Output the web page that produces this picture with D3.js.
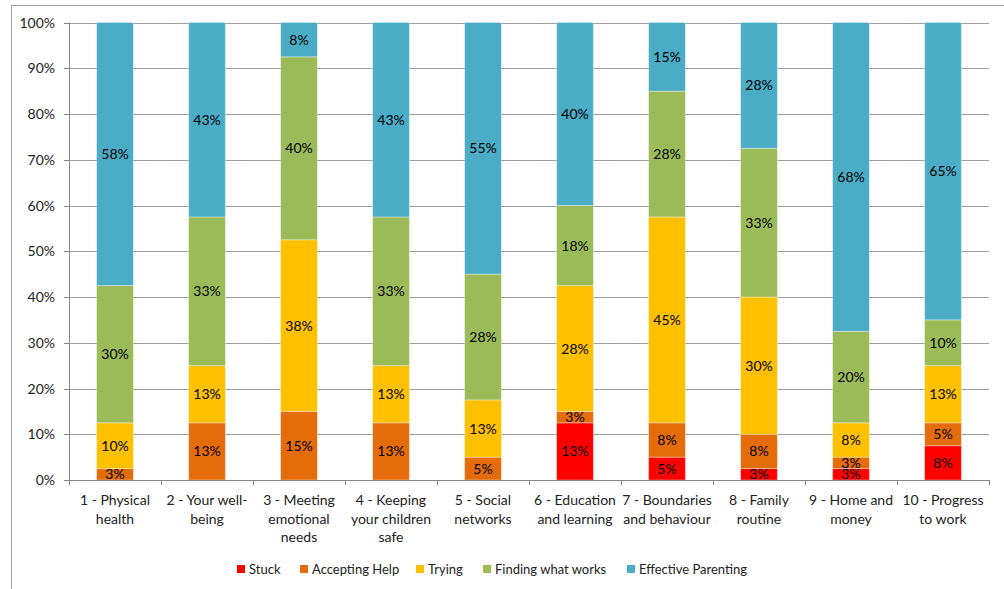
<!DOCTYPE html>
<html>
<head>
<meta charset="utf-8">
<script src="https://cdn.jsdelivr.net/npm/d3@7"></script>
<style>
  body { margin: 0; background: #fff; }
  svg { font-family: Lato, "Liberation Sans", sans-serif; }
</style>
</head>
<body>
<svg id="chart" width="1004" height="589"></svg>
<script>
// categories and series (percent of families at each stage)
const categories = [
  ['1 - Physical', 'health'],
  ['2 - Your well-', 'being'],
  ['3 - Meeting', 'emotional', 'needs'],
  ['4 - Keeping', 'your children', 'safe'],
  ['5 - Social', 'networks'],
  ['6 - Education', 'and learning'],
  ['7 - Boundaries', 'and behaviour'],
  ['8 - Family', 'routine'],
  ['9 - Home and', 'money'],
  ['10 - Progress', 'to work']
];
const seriesNames = ['Stuck', 'Accepting Help', 'Trying', 'Finding what works', 'Effective Parenting'];
const seriesColors = ['#ff0000', '#e46c0a', '#ffc000', '#9bbb59', '#4bacc6'];

const stuck        = [0, 0, 0, 0, 0, 12.5, 5, 2.5, 2.5, 7.5];
const acceptHelp   = [2.5, 12.5, 15, 12.5, 5, 2.5, 7.5, 7.5, 2.5, 5];
const trying       = [10, 12.5, 37.5, 12.5, 12.5, 27.5, 45, 30, 7.5, 12.5];
const findingWorks = [30, 32.5, 40, 32.5, 27.5, 17.5, 27.5, 32.5, 20, 10];
const effective    = [57.5, 42.5, 7.5, 42.5, 55, 40, 15, 27.5, 67.5, 65];

const yTicks = [0, 10, 20, 30, 40, 50, 60, 70, 80, 90, 100];

const allSeries = [stuck, acceptHelp, trying, findingWorks, effective];
const table = categories.map(function (c, i) {
  const row = { cat: i };
  seriesNames.forEach(function (s, j) { row[s] = allSeries[j][i]; });
  return row;
});

const svg = d3.select('#chart');

// outer chart border
svg.append('rect')
  .attr('x', 11.5).attr('y', 5.5)
  .attr('width', 1010).attr('height', 600)
  .attr('fill', 'none').attr('stroke', '#a6a6a6');

const plotLeft = 69, plotRight = 989, plotTop = 22.5, plotBottom = 480;

const x = d3.scaleBand().domain(d3.range(categories.length)).range([plotLeft, plotRight]).paddingInner(0.6).paddingOuter(0.3);
const xOuter = d3.scaleBand().domain(d3.range(categories.length)).range([plotLeft, plotRight]);
const y = d3.scaleLinear().domain([0, 100]).range([plotBottom, plotTop]);

// gridlines
svg.append('g')
  .selectAll('line')
  .data(yTicks.slice(1))
  .join('line')
  .attr('x1', plotLeft).attr('x2', plotRight)
  .attr('y1', function (d) { return Math.round(y(d)) + 0.5; })
  .attr('y2', function (d) { return Math.round(y(d)) + 0.5; })
  .attr('stroke', '#9e9e9e');

const stack = d3.stack().keys(seriesNames);
const layers = stack(table);

const g = svg.append('g');
layers.forEach(function (layer, j) {
  g.append('g')
    .attr('fill', seriesColors[j])
    .selectAll('rect')
    .data(layer.filter(function (d) { return d[1] - d[0] > 0; }))
    .join('rect')
    .attr('x', function (d) { return x(d.data.cat); })
    .attr('width', x.bandwidth())
    .attr('y', function (d) { return y(d[1]); })
    .attr('height', function (d) { return y(d[0]) - y(d[1]); })
    .attr('stroke', 'rgba(255,255,255,0.35)')
    .attr('stroke-width', 1);
});

// data labels
layers.forEach(function (layer, j) {
  g.append('g')
    .selectAll('text')
    .data(layer.filter(function (d) { return d[1] - d[0] > 0; }))
    .join('text')
    .attr('x', function (d) { return x(d.data.cat) + x.bandwidth() / 2; })
    .attr('y', function (d) { return (y(d[0]) + y(d[1])) / 2; })
    .attr('dy', '0.36em')
    .attr('text-anchor', 'middle')
    .attr('font-size', 14)
    .attr('fill', '#000')
    .text(function (d) { return Math.round(d[1] - d[0]) + '%'; });
});

// y axis
const yAxis = svg.append('g');
yAxis.append('line')
  .attr('x1', plotLeft + 0.5).attr('x2', plotLeft + 0.5)
  .attr('y1', plotTop).attr('y2', plotBottom)
  .attr('stroke', '#868686');
yAxis.selectAll('line.tick')
  .data(yTicks)
  .join('line')
  .attr('class', 'tick')
  .attr('x1', plotLeft - 5).attr('x2', plotLeft)
  .attr('y1', function (d) { return Math.round(y(d)) + 0.5; })
  .attr('y2', function (d) { return Math.round(y(d)) + 0.5; })
  .attr('stroke', '#868686');
yAxis.selectAll('text')
  .data(yTicks)
  .join('text')
  .attr('x', plotLeft - 14)
  .attr('y', function (d) { return y(d); })
  .attr('dy', '0.36em')
  .attr('text-anchor', 'end')
  .attr('font-size', 14)
  .attr('fill', '#222')
  .text(function (d) { return d + '%'; });

// x axis
const xAxis = svg.append('g');
xAxis.append('line')
  .attr('x1', plotLeft).attr('x2', plotRight)
  .attr('y1', plotBottom + 0.5).attr('y2', plotBottom + 0.5)
  .attr('stroke', '#868686');
xAxis.selectAll('line.tick')
  .data(d3.range(categories.length + 1))
  .join('line')
  .attr('class', 'tick')
  .attr('x1', function (d) { return Math.round(plotLeft + d * xOuter.step()) + 0.5; })
  .attr('x2', function (d) { return Math.round(plotLeft + d * xOuter.step()) + 0.5; })
  .attr('y1', plotBottom).attr('y2', plotBottom + 5)
  .attr('stroke', '#868686');
const xl = xAxis.selectAll('text')
  .data(categories)
  .join('text')
  .attr('text-anchor', 'middle')
  .attr('font-size', 14)
  .attr('fill', '#222');
xl.each(function (lines, i) {
  d3.select(this).selectAll('tspan')
    .data(lines)
    .join('tspan')
    .attr('x', xOuter(i) + xOuter.bandwidth() / 2)
    .attr('y', function (d, k) { return 505 + k * 18.5; })
    .text(function (d) { return d; });
});

// legend
const legendX = [237, 300, 416, 483, 627];
const legend = svg.append('g');
seriesNames.forEach(function (s, j) {
  legend.append('rect')
    .attr('x', legendX[j]).attr('y', 565)
    .attr('width', 8).attr('height', 8)
    .attr('fill', seriesColors[j]);
  legend.append('text')
    .attr('x', legendX[j] + 12).attr('y', 569.5)
    .attr('dy', '0.36em')
    .attr('font-size', 13)
    .attr('fill', '#222')
    .text(s);
});
</script>
</body>
</html>
